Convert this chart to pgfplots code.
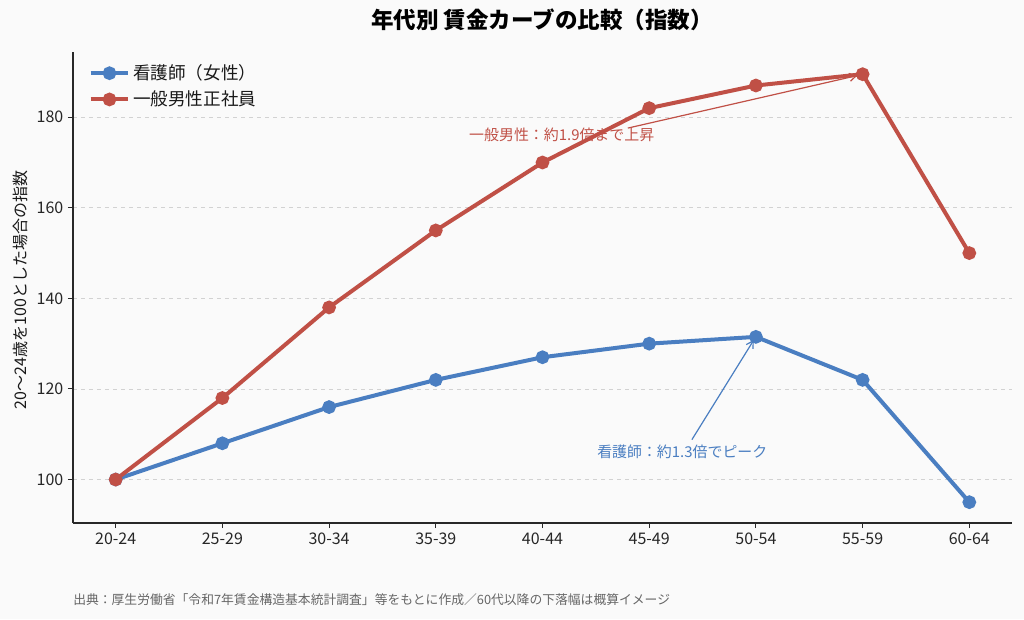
\documentclass[border=0pt]{standalone}
\usepackage{fontspec}
\setmainfont{Noto Sans CJK JP}
\usepackage{pgfplots}
\pgfplotsset{compat=1.18}
\usetikzlibrary{arrows.meta}
\definecolor{bgc}{RGB}{250,250,250}
\definecolor{nblue}{RGB}{74,126,193}
\definecolor{mred}{RGB}{192,80,70}
\definecolor{axc}{RGB}{40,40,40}
\begin{document}
\begin{tikzpicture}
\path[use as bounding box, fill=bgc] (-54.75pt,-72pt) rectangle (713.25pt,392.25pt);
\begin{axis}[
  at={(0,0)}, anchor=south west,
  scale only axis, width=704.25pt, height=353.25pt,
  xmin=-0.4, xmax=8.4, ymin=90.4, ymax=194.4,
  axis x line*=bottom, axis y line*=left,
  axis line style={axc, line width=0.9pt},
  tick align=outside, major tick length=3.75pt,
  tick style={axc, line width=0.8pt},
  xtick={0,...,8},
  xticklabels={20-24,25-29,30-34,35-39,40-44,45-49,50-54,55-59,60-64},
  ytick={100,120,140,160,180},
  /pgf/number format/assume math mode=true,
  tick label style={font=\fontsize{12pt}{14pt}\selectfont, text=black!85},
  ymajorgrids, grid style={dashed, gray!35, line width=0.6pt},
  legend style={at={(0.012,0.985)}, anchor=north west, draw=none, fill=none,
    font=\fontsize{13.2pt}{15pt}\selectfont, row sep=3pt, text=black!90},
  legend cell align=left,
  legend image code/.code={
    \draw[#1, mark repeat=2, mark phase=2] plot coordinates {(0cm,0cm) (0.5cm,0cm) (1.0cm,0cm)};},
  clip=false,
]
\addplot[nblue, line width=3pt, mark=*, mark size=3.6pt, mark options={solid}] coordinates {
 (0,100) (1,108) (2,116) (3,122) (4,127) (5,130) (6,131.5) (7,122) (8,95)};
\addlegendentry{看護師（女性）}
\addplot[mred, line width=3pt, mark=*, mark size=3.6pt, mark options={solid}] coordinates {
 (0,100) (1,118) (2,138) (3,155) (4,170) (5,182) (6,187) (7,189.5) (8,150)};
\addlegendentry{一般男性正社員}
\draw[-{Straight Barb[length=5pt,width=6pt]}, mred, line width=0.9pt] (axis cs:4.8,177.6) -- (axis cs:6.95,189.2);
\node[text=mred, font=\fontsize{11.2pt}{13pt}\selectfont] at (axis cs:4.18,176.2) {一般男性：約1.9倍まで上昇};
\draw[-{Straight Barb[length=5pt,width=6pt]}, nblue, line width=0.9pt] (axis cs:5.4,108.8) -- (axis cs:5.98,130.8);
\node[text=nblue, font=\fontsize{11.2pt}{13pt}\selectfont] at (axis cs:5.31,106.2) {看護師：約1.3倍でピーク};
\end{axis}
\node[rotate=90, font=\fontsize{12pt}{14pt}\selectfont, text=black!90] at (-39.75pt,174.75pt) {20〜24歳を100とした場合の指数};
\node[font=\bfseries\fontsize{16.9pt}{19pt}\selectfont, text=black] at (351.75pt,377.25pt) {年代別 賃金カーブの比較（指数）};
\node[anchor=west, font=\fontsize{9.6pt}{11pt}\selectfont, text=black!60, inner sep=0pt] at (0pt,-57.75pt) {出典：厚生労働省「令和7年賃金構造基本統計調査」等をもとに作成／60代以降の下落幅は概算イメージ};
\end{tikzpicture}
\end{document}
